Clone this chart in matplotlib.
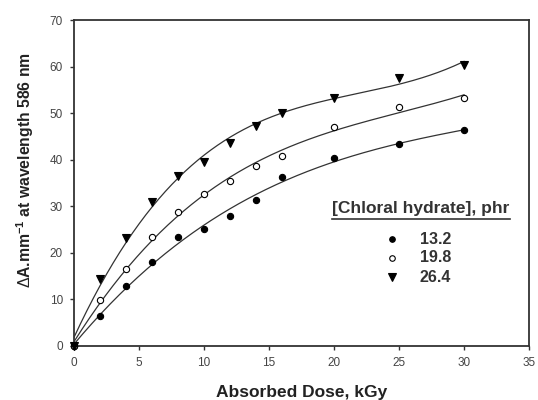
import numpy as np
import matplotlib
matplotlib.use("Agg")
import matplotlib.pyplot as plt
from matplotlib.lines import Line2D

plt.rcParams['font.family'] = ['Liberation Sans', 'DejaVu Sans']
plt.rcParams['mathtext.fontset'] = 'custom'
plt.rcParams['mathtext.rm'] = 'Liberation Sans'
plt.rcParams['mathtext.bf'] = 'Liberation Sans:bold'

dose = [0, 2, 4, 6, 8, 10, 12, 14, 16, 20, 25, 30]
s132 = [0, 6.5, 12.9, 18.1, 23.3, 25.2, 28.0, 31.4, 36.2, 40.3, 43.4, 46.3]
s198 = [0, 9.8, 16.6, 23.3, 28.8, 32.6, 35.5, 38.6, 40.8, 47.0, 51.3, 53.3]
s264 = [0, 14.4, 23.1, 31.0, 36.6, 39.5, 43.6, 47.3, 50.1, 53.3, 57.6, 60.4]
labels = ["13.2", "19.8", "26.4"]
legend_title = "[Chloral hydrate], phr"

fig = plt.figure(figsize=(5.38, 4.0), dpi=100)
ax = fig.add_axes([74/538, 1-346/400, 455/538, 326/400])

series = [(s132, 'o', 'black', 'black', 4.5),
          (s198, 'o', 'white', 'black', 4.5),
          (s264, 'v', 'black', 'black', 6.0)]
xs = np.linspace(0, 30, 300)
for vals, m, fc, ec, ms in series:
    c = np.polyfit(dose, vals, 3)
    ax.plot(xs, np.polyval(c, xs), color='#333333', lw=0.9, zorder=2)
    ax.plot(dose, vals, linestyle='none', marker=m, markersize=ms,
            markerfacecolor=fc, markeredgecolor=ec, markeredgewidth=0.8, zorder=3, clip_on=False)

ax.set_xlim(0, 35)
ax.set_ylim(0, 70)
ax.set_xticks(range(0, 36, 5))
ax.set_yticks(range(0, 71, 10))
ax.tick_params(direction='out', length=3, width=1, labelsize=8.5, colors='#333333',
               labelcolor='#444444', top=False, right=False, pad=5)
for s in ax.spines.values():
    s.set_linewidth(1.3)
    s.set_color('#333333')

ax.set_xlabel("Absorbed Dose, kGy", fontsize=12.5, fontweight='bold', color='#222222')
ax.xaxis.set_label_coords(0.5, -(393-346)/326)
ax.xaxis.label.set_va('center')
ax.set_ylabel(r"$\Delta$A.mm$^{\mathbf{-1}}$ at wavelength 586 nm", fontsize=11.3,
              fontweight='bold', color='#222222')
ax.yaxis.set_label_coords((25-74)/455, (346-170)/326)
ax.yaxis.label.set_va('center')
ax.yaxis.label.set_rotation_mode('default')

# legend (manual)
fig.text(332/538, 1-209/400, legend_title, fontsize=12.5, fontweight='bold',
         ha='left', va='center', color='#333333')
fig.add_artist(Line2D([332/538, 510/538], [1-219/400, 1-219/400], color='#333333', lw=1.2))
ys = [239, 258, 277]
for (vals, m, fc, ec, ms), lab, y in zip(series, labels, ys):
    fig.add_artist(Line2D([392/538], [1-y/400], marker=m, markersize=ms-0.5,
                          markerfacecolor=fc, markeredgecolor=ec, markeredgewidth=0.8, linestyle='none'))
    fig.text(420/538, 1-y/400, lab, fontsize=11.5, fontweight='bold', ha='left', va='center',
             color='#333333')

fig.savefig("out.png", dpi=100)
